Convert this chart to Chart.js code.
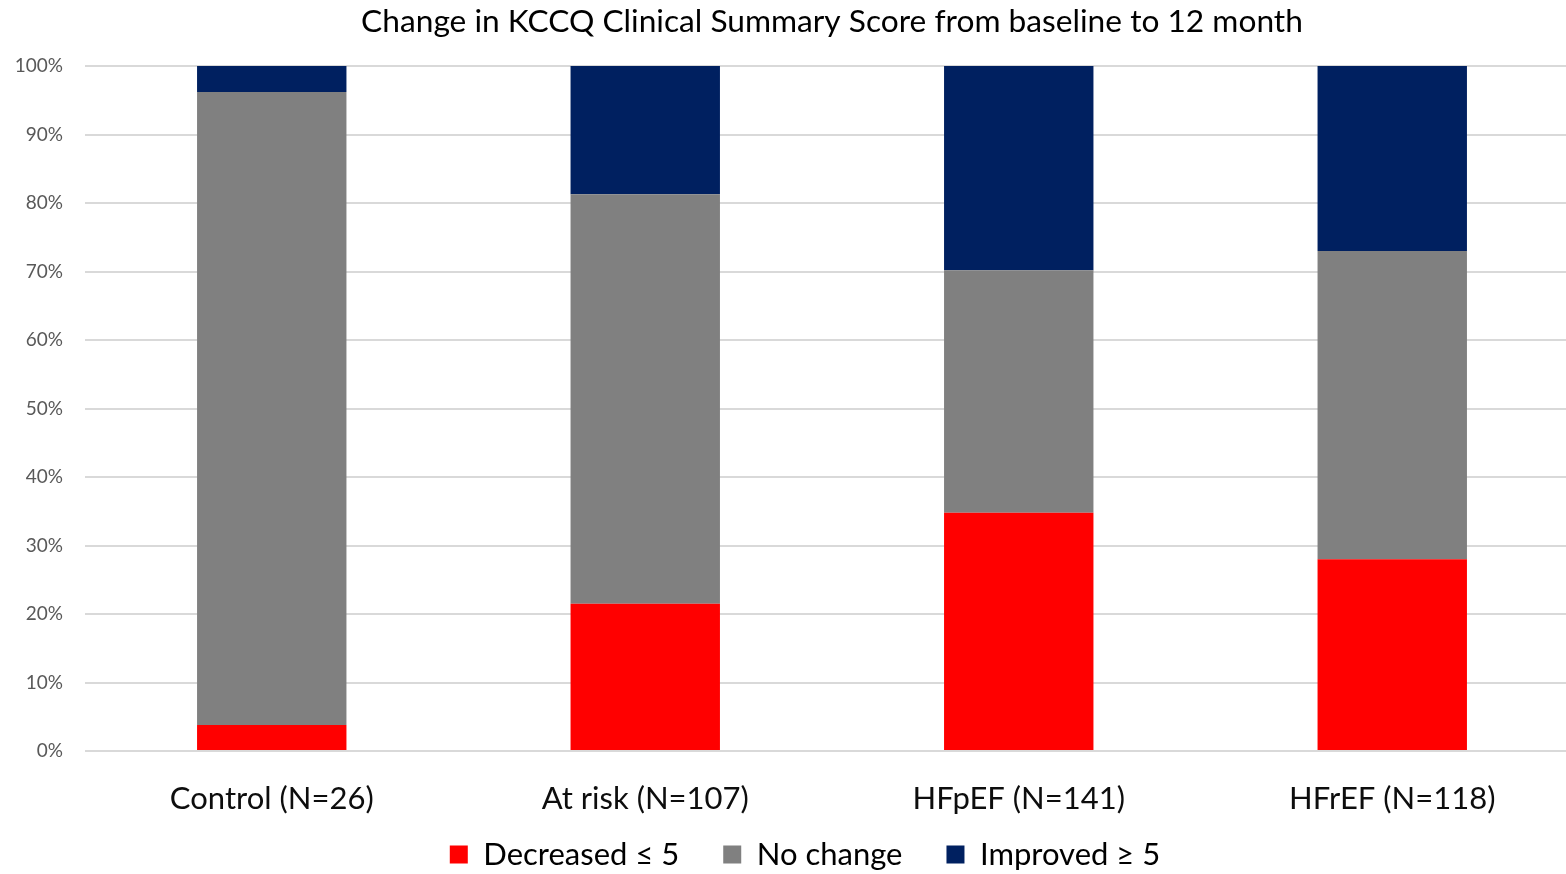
<!DOCTYPE html>
<html>
<head>
<meta charset="utf-8">
<script src="https://cdn.jsdelivr.net/npm/chart.js@4.4.1/dist/chart.umd.min.js"></script>
<style>
  html, body { margin: 0; padding: 0; background: #fff; overflow: hidden; }
  #wrap { position: absolute; left: 0; top: 0; width: 1610px; height: 874px; }
</style>
</head>
<body>
<div id="wrap"><canvas id="c"></canvas></div>
<script>
const categories = ['Control (N=26)', 'At risk (N=107)', 'HFpEF (N=141)', 'HFrEF (N=118)'];
const decreased = [3.8, 21.5, 34.8, 28.0];
const noChange = [92.4, 59.8, 35.4, 45.0];
const improved = [3.8, 18.7, 29.8, 27.0];
const seriesNames = ['Decreased \u2264 5', 'No change', 'Improved \u2265 5'];
const titleText = 'Change in KCCQ Clinical Summary Score from baseline to 12 month';

// moves the legend box after layout so it sits like the reference
const legendNudge = {
  id: 'legendNudge',
  afterLayout(chart) {
    const l = chart.legend;
    if (!l) return;
    l.top -= 20; l.bottom -= 20;
    l.left += 15.5; l.right += 15.5;
  }
};

new Chart(document.getElementById('c'), {
  type: 'bar',
  data: {
    labels: categories,
    datasets: [
      { label: seriesNames[0], data: decreased, backgroundColor: '#FF0000' },
      { label: seriesNames[1], data: noChange, backgroundColor: '#808080' },
      { label: seriesNames[2], data: improved, backgroundColor: '#002060' }
    ]
  },
  plugins: [legendNudge],
  options: {
    responsive: true,
    maintainAspectRatio: false,
    animation: false,
    datasets: { bar: { barPercentage: 0.4, categoryPercentage: 1.0 } },
    layout: { padding: { left: 0, right: 31, top: 0, bottom: -26 } },
    plugins: {
      tooltip: { enabled: false },
      title: {
        display: true,
        text: titleText,
        fullSize: false,
        color: '#000',
        font: { family: 'Lato', size: 31.7, weight: 'normal', lineHeight: 1.2 },
        padding: { top: 3, bottom: 25 }
      },
      legend: {
        position: 'bottom',
        labels: {
          color: '#000',
          font: { family: 'Lato', size: 31 },
          boxWidth: 18,
          boxHeight: 18,
          padding: 44
        }
      }
    },
    scales: {
      x: {
        stacked: true,
        grid: { display: false, drawTicks: false },
        border: { display: false },
        ticks: { color: '#0d0d0d', font: { family: 'Lato', size: 31 }, padding: 29 },
        afterFit: s => { s.height = 64; }
      },
      y: {
        stacked: true,
        min: 0, max: 100,
        grid: { color: '#d9d9d9', lineWidth: 2, drawTicks: false },
        border: { display: false },
        ticks: {
          stepSize: 10,
          color: '#595959',
          font: { family: 'Lato', size: 19 },
          padding: 22,
          callback: v => v + '%'
        },
        afterFit: s => { s.width = 85; }
      }
    }
  }
});
</script>
</body>
</html>
